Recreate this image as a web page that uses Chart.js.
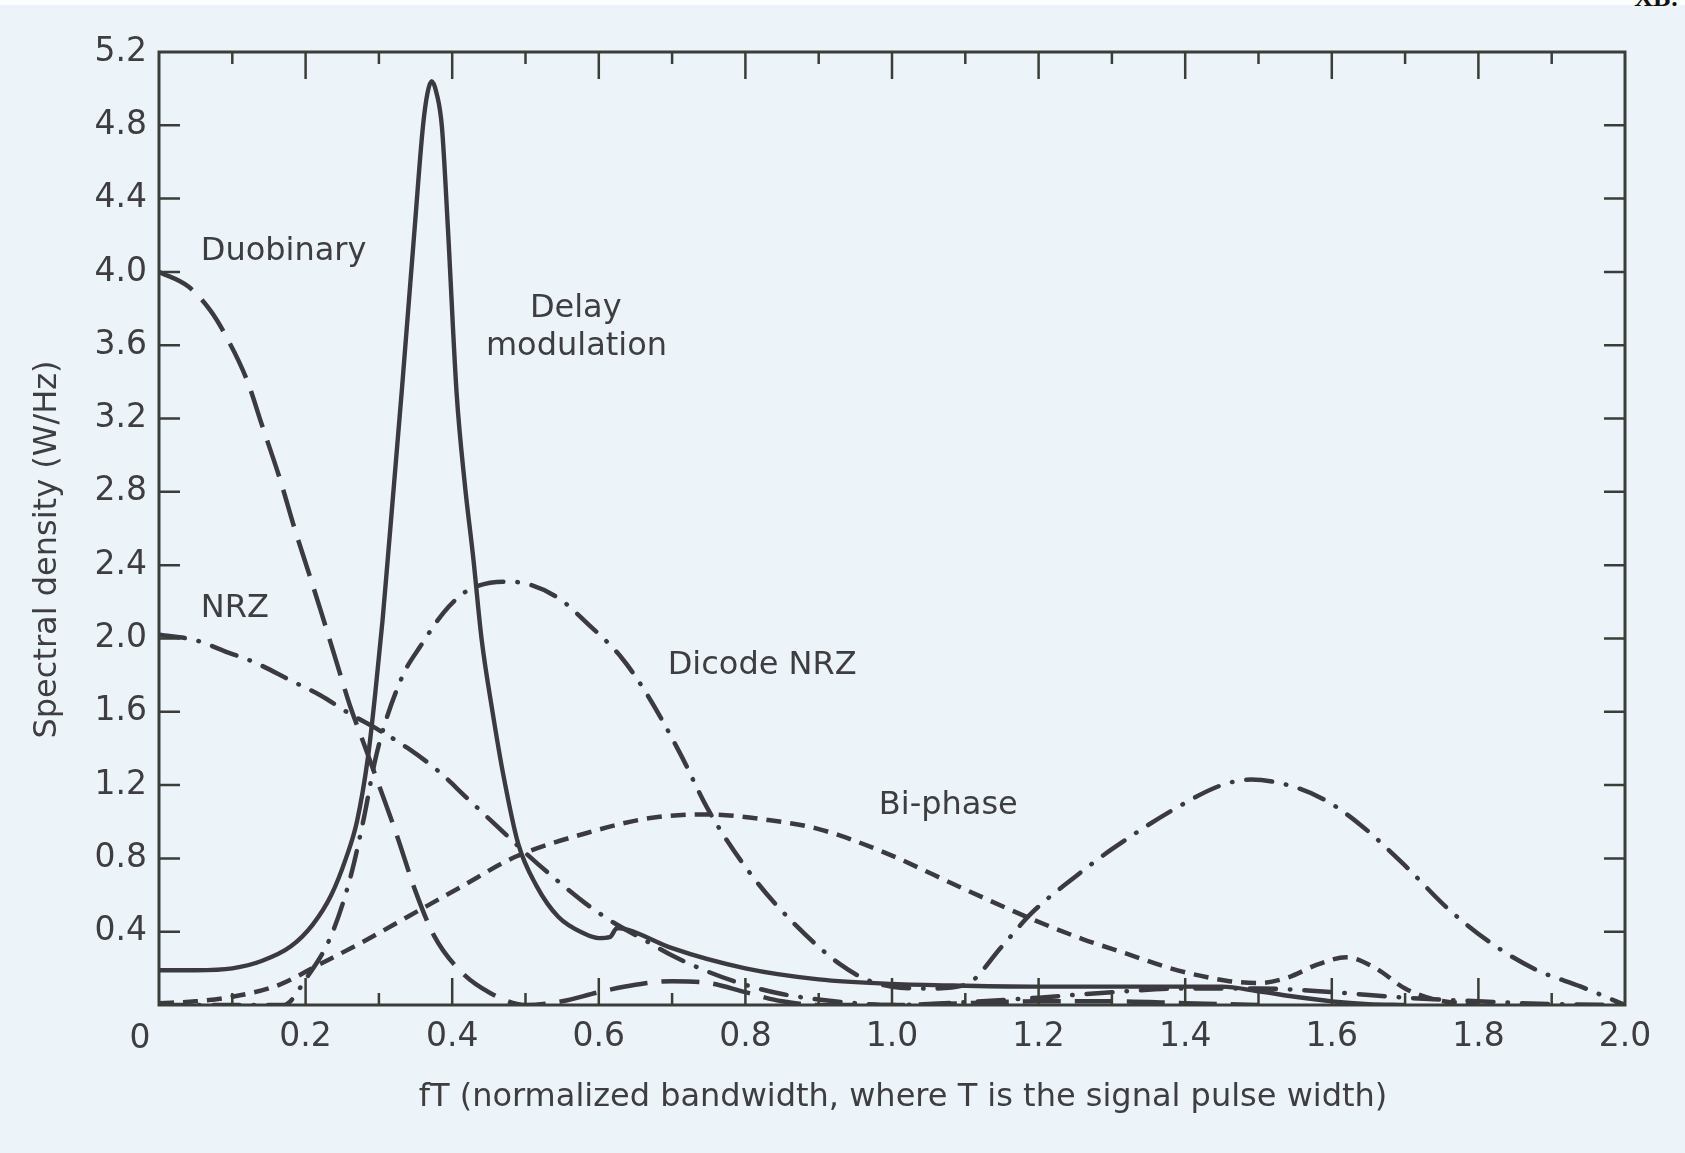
<!DOCTYPE html>
<html>
<head>
<meta charset="utf-8">
<script src="https://cdn.jsdelivr.net/npm/chart.js@4.4.0/dist/chart.umd.min.js"></script>
<style>
    html, body { margin: 0; padding: 0; background: #edf4f9; }
    #wrap { position: relative; width: 1685px; height: 1153px; overflow: hidden; }
    .strip { position: absolute; left: 0; top: 0; width: 1685px; height: 5px; background: #fdfefe; }
    .corner { position: absolute; right: 6px; top: -17px; font: bold 26px "Liberation Serif", serif; color: #111; }
    canvas { position: absolute; left: 0; top: 0; }
</style>
</head>
<body>
<div id="wrap">
    <div class="strip"></div>
    <div class="corner">XB:</div>
    <canvas id="spectre" width="1685" height="1153"></canvas>
</div>
<script>
// Valeurs : fT (abscisse) et densité spectrale (W/Hz)
const duobinaryX = [0, 0.04, 0.07, 0.09, 0.12, 0.14, 0.165, 0.185, 0.205, 0.22, 0.24, 0.26, 0.28, 0.30, 0.325, 0.35, 0.375, 0.41, 0.45, 0.50, 0.55, 0.60, 0.65, 0.70, 0.75, 0.80, 0.85, 0.90, 1.00, 1.10, 1.20, 1.30, 1.40, 1.50];
const duobinaryY = [4.0, 3.92, 3.79, 3.66, 3.41, 3.17, 2.87, 2.6, 2.35, 2.16, 1.9, 1.64, 1.42, 1.2, 0.92, 0.62, 0.38, 0.19, 0.07, 0.0, 0.02, 0.07, 0.11, 0.13, 0.12, 0.07, 0.02, 0.0, 0.0, 0.01, 0.02, 0.02, 0.01, 0.0];

const delayX = [0, 0.05, 0.10, 0.14, 0.18, 0.21, 0.235, 0.255, 0.27, 0.285, 0.295, 0.305, 0.312, 0.331, 0.349, 0.36, 0.366, 0.372, 0.379, 0.386, 0.394, 0.406, 0.417, 0.429, 0.44, 0.455, 0.47, 0.49, 0.515, 0.545, 0.58, 0.60, 0.615, 0.625, 0.64, 0.70, 0.80, 0.90, 1.00, 1.10, 1.20, 1.30, 1.40, 1.45, 1.50, 1.55, 1.60, 1.65, 1.70];
const delayY = [0.19, 0.19, 0.2, 0.24, 0.32, 0.44, 0.6, 0.8, 1.0, 1.35, 1.7, 2.1, 2.43, 3.34, 4.25, 4.79, 4.97, 5.04, 4.97, 4.79, 4.25, 3.34, 2.85, 2.43, 2.0, 1.6, 1.25, 0.88, 0.65, 0.48, 0.39, 0.365, 0.37, 0.42, 0.41, 0.31, 0.2, 0.14, 0.115, 0.105, 0.1, 0.1, 0.1, 0.1, 0.075, 0.045, 0.02, 0.005, 0];

const nrzX = [0, 0.05, 0.09, 0.13, 0.18, 0.22, 0.26, 0.30, 0.34, 0.38, 0.42, 0.46, 0.50, 0.54, 0.58, 0.62, 0.66, 0.70, 0.75, 0.80, 0.85, 0.90, 0.95, 1.00, 1.10, 1.20, 1.30, 1.40, 1.50, 1.60, 1.70, 1.80, 1.90, 2.00];
const nrzY = [2.02, 1.99, 1.93, 1.87, 1.77, 1.69, 1.59, 1.5, 1.4, 1.28, 1.13, 0.98, 0.83, 0.69, 0.56, 0.45, 0.36, 0.27, 0.18, 0.11, 0.06, 0.03, 0.01, 0, 0.015, 0.04, 0.07, 0.09, 0.09, 0.07, 0.04, 0.02, 0.005, 0];

const dicodeX = [0, 0.17, 0.20, 0.235, 0.262, 0.28, 0.294, 0.307, 0.334, 0.357, 0.388, 0.41, 0.43, 0.47, 0.50, 0.545, 0.585, 0.63, 0.665, 0.71, 0.75, 0.81, 0.87, 0.93, 0.97, 1.00, 1.05, 1.10, 1.15, 1.19, 1.25, 1.30, 1.39, 1.45, 1.49, 1.54, 1.59, 1.64, 1.70, 1.76, 1.82, 1.88, 1.94, 2.00];
const dicodeY = [0, 0, 0.14, 0.38, 0.71, 1.03, 1.32, 1.52, 1.81, 1.96, 2.14, 2.23, 2.28, 2.31, 2.3, 2.22, 2.08, 1.9, 1.7, 1.38, 1.06, 0.7, 0.43, 0.22, 0.13, 0.1, 0.09, 0.11, 0.32, 0.5, 0.7, 0.85, 1.08, 1.2, 1.23, 1.2, 1.12, 0.98, 0.76, 0.52, 0.33, 0.19, 0.1, 0];

const biphaseX = [0, 0.05, 0.10, 0.164, 0.218, 0.276, 0.343, 0.41, 0.487, 0.585, 0.67, 0.75, 0.83, 0.90, 0.985, 1.10, 1.19, 1.26, 1.32, 1.38, 1.42, 1.46, 1.50, 1.54, 1.58, 1.62, 1.66, 1.70, 1.74, 1.80];
const biphaseY = [0.01, 0.02, 0.045, 0.11, 0.22, 0.34, 0.49, 0.64, 0.81, 0.94, 1.02, 1.04, 1.01, 0.96, 0.84, 0.63, 0.47, 0.36, 0.28, 0.2, 0.16, 0.13, 0.12, 0.15, 0.22, 0.26, 0.2, 0.09, 0.03, 0];

// Graduations
const xTickValues = [0.1, 0.2, 0.3, 0.4, 0.5, 0.6, 0.7, 0.8, 0.9, 1.0, 1.1, 1.2, 1.3, 1.4, 1.5, 1.6, 1.7, 1.8, 1.9];
const yTickValues = [0.4, 0.8, 1.2, 1.6, 2.0, 2.4, 2.8, 3.2, 3.6, 4.0, 4.4, 4.8];

// Étiquettes des courbes (coin gauche, en unités des axes)
const curveLabels = ['Duobinary', 'Delay', 'modulation', 'NRZ', 'Dicode NRZ', 'Bi-phase'];
const curveLabelX = [0.057, 0.506, 0.446, 0.057, 0.694, 0.982];
const curveLabelY = [4.11, 3.80, 3.59, 2.16, 1.85, 1.085];

const xTitle = 'fT (normalized bandwidth, where T is the signal pulse width)';
const yTitle = 'Spectral density (W/Hz)';

const INK = '#3b3a40';
const TEXT = '#3d3d42';
const FONT = '"DejaVu Sans", "Open Sans", sans-serif';

function series(xs, ys) {
    return xs.map((x, i) => ({ x: x, y: ys[i] }));
}

// Cadre + graduations tournées vers l'intérieur
const frameTicks = {
    id: 'frameTicks',
    afterDatasetsDraw(chart) {
        const { ctx, chartArea: a, scales: { x, y } } = chart;
        ctx.save();
        ctx.strokeStyle = '#3a3d38';
        ctx.lineWidth = 3;
        ctx.strokeRect(a.left, a.top, a.right - a.left, a.bottom - a.top);
        ctx.lineWidth = 2.5;
        ctx.beginPath();
        xTickValues.forEach((v, i) => {
            const px = x.getPixelForValue(v);
            const len = (i % 2 === 1) ? 27 : 12;
            ctx.moveTo(px, a.bottom);
            ctx.lineTo(px, a.bottom - len);
            ctx.moveTo(px, a.top);
            ctx.lineTo(px, a.top + len);
        });
        yTickValues.forEach((v) => {
            const py = y.getPixelForValue(v);
            ctx.moveTo(a.left, py);
            ctx.lineTo(a.left + 21, py);
            ctx.moveTo(a.right, py);
            ctx.lineTo(a.right - 21, py);
        });
        ctx.stroke();
        ctx.restore();
    }
};

// Textes : noms des courbes, origine "0" et titres des axes
const chartText = {
    id: 'chartText',
    afterDraw(chart) {
        const { ctx, chartArea: a, scales: { x, y } } = chart;
        ctx.save();
        ctx.fillStyle = TEXT;
        ctx.textBaseline = 'middle';
        ctx.textAlign = 'left';
        ctx.font = '32px ' + FONT;
        curveLabels.forEach((t, i) => {
            ctx.fillText(t, x.getPixelForValue(curveLabelX[i]), y.getPixelForValue(curveLabelY[i]));
        });

        ctx.textAlign = 'center';
        ctx.font = '33px ' + FONT;
        ctx.fillText('0', x.getPixelForValue(0) - 19, a.bottom + 34);

        ctx.font = '32px ' + FONT;
        ctx.fillText(xTitle, (a.left + a.right) / 2 + 11, 1098);

        ctx.translate(48, (a.top + a.bottom) / 2 + 21);
        ctx.rotate(-Math.PI / 2);
        ctx.fillText(yTitle, 0, 0);
        ctx.restore();
    }
};

const lineBase = {
    borderColor: INK,
    borderWidth: 4.5,
    pointRadius: 0,
    fill: false,
    cubicInterpolationMode: 'monotone',
};
const dashDot = [26, 14, 0.5, 14];

new Chart(document.getElementById('spectre'), {
    type: 'line',
    data: {
        datasets: [
            Object.assign({ label: 'Duobinary', data: series(duobinaryX, duobinaryY), borderDash: [38, 14] }, lineBase),
            Object.assign({ label: 'Delay modulation', data: series(delayX, delayY) }, lineBase, { borderWidth: 4.4 }),
            Object.assign({ label: 'NRZ', data: series(nrzX, nrzY), borderDash: dashDot, borderCapStyle: 'round' }, lineBase),
            Object.assign({ label: 'Dicode NRZ', data: series(dicodeX, dicodeY), borderDash: dashDot, borderCapStyle: 'round' }, lineBase),
            Object.assign({ label: 'Bi-phase', data: series(biphaseX, biphaseY), borderDash: [15, 9] }, lineBase),
        ]
    },
    options: {
        responsive: false,
        animation: false,
        events: [],
        layout: { padding: { top: 52, right: 60, bottom: 0, left: 0 } },
        plugins: {
            legend: { display: false },
            tooltip: { enabled: false },
        },
        scales: {
            x: {
                type: 'linear',
                min: 0,
                max: 2,
                grid: { display: false, drawTicks: false },
                border: { display: false },
                ticks: {
                    stepSize: 0.2,
                    padding: 13,
                    color: TEXT,
                    font: { family: FONT, size: 33 },
                    maxRotation: 0,
                    // le "0" de l'origine est placé à part, décalé à gauche
                    callback: (v) => (v === 0 ? '' : Number(v).toFixed(1)),
                },
                afterFit: (scale) => { scale.height = 148; },
            },
            y: {
                type: 'linear',
                min: 0,
                max: 5.2,
                grid: { display: false, drawTicks: false },
                border: { display: false },
                ticks: {
                    stepSize: 0.4,
                    padding: 12,
                    color: TEXT,
                    font: { family: FONT, size: 33 },
                    callback: (v) => (Math.abs(v) < 1e-9 ? '' : Number(v).toFixed(1)),
                },
                afterFit: (scale) => { scale.width = 159; },
            },
        },
    },
    plugins: [frameTicks, chartText],
});
</script>
</body>
</html>
